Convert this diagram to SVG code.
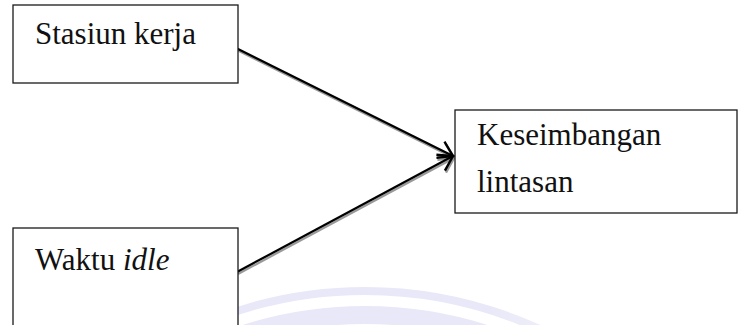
<svg xmlns="http://www.w3.org/2000/svg" width="739" height="325" viewBox="0 0 739 325">
  <style>
    .box { fill: #ffffff; stroke: #1a1a1a; stroke-width: 1.3; }
    .label { font-family: "Liberation Serif", "Times New Roman", serif; font-size: 31px; fill: #111111; }
    .shaft { fill: none; stroke: #000000; stroke-width: 2.2; }
    .shade { fill: none; stroke: #9a9a9a; stroke-width: 2.2; }
    .wm { fill: none; stroke: #e8e8f8; }
  </style>
  <defs>
    <marker id="head" viewBox="-16 -10 18 20" refX="0" refY="0" markerWidth="18" markerHeight="20" markerUnits="userSpaceOnUse" orient="auto">
      <path d="M -14 -9 L 0 0 L -14 9" fill="none" stroke="#000000" stroke-width="2.4" stroke-linejoin="miter"/>
    </marker>
    <marker id="headShade" viewBox="-16 -10 18 20" refX="0" refY="0" markerWidth="18" markerHeight="20" markerUnits="userSpaceOnUse" orient="auto">
      <path d="M -14 -9 L 0 0 L -14 9" fill="none" stroke="#9a9a9a" stroke-width="2.4" stroke-linejoin="miter"/>
    </marker>
    <linearGradient id="fade" x1="0" y1="0" x2="1" y2="0">
      <stop offset="0" stop-color="#ffffff" stop-opacity="0"/>
      <stop offset="0.55" stop-color="#ffffff" stop-opacity="0"/>
      <stop offset="0.8" stop-color="#ffffff" stop-opacity="0.7"/>
      <stop offset="1" stop-color="#ffffff" stop-opacity="1"/>
    </linearGradient>
  </defs>

  <rect width="739" height="325" fill="#ffffff"/>

  <!-- faint background emblem arcs -->
  <g id="backdrop">
    <circle class="wm" cx="365" cy="710" r="419" stroke-width="8"/>
    <circle class="wm" cx="365" cy="710" r="395" stroke-width="18"/>
    <rect x="180" y="270" width="559" height="55" fill="url(#fade)"/>
  </g>

  <g id="connectors">
    <line class="shade" x1="238" y1="50.5" x2="454" y2="158" marker-end="url(#headShade)"/>
    <line class="shade" x1="238" y1="274" x2="454" y2="158" marker-end="url(#headShade)"/>
    <line class="shaft" x1="237" y1="48.5" x2="453" y2="156" marker-end="url(#head)"/>
    <line class="shaft" x1="237" y1="272" x2="453" y2="156" marker-end="url(#head)"/>
  </g>

  <g id="stasiun-kerja">
    <rect class="box" x="13" y="5" width="225" height="78"/>
    <text class="label" x="35" y="44">Stasiun kerja</text>
  </g>

  <g id="waktu-idle">
    <rect class="box" x="13" y="228" width="225" height="110"/>
    <text class="label" x="35" y="270">Waktu <tspan font-style="italic">idle</tspan></text>
  </g>

  <g id="keseimbangan-lintasan">
    <rect class="box" x="455" y="110" width="282" height="103"/>
    <text class="label" x="477" y="145">Keseimbangan</text>
    <text class="label" x="477" y="192">lintasan</text>
  </g>
</svg>
